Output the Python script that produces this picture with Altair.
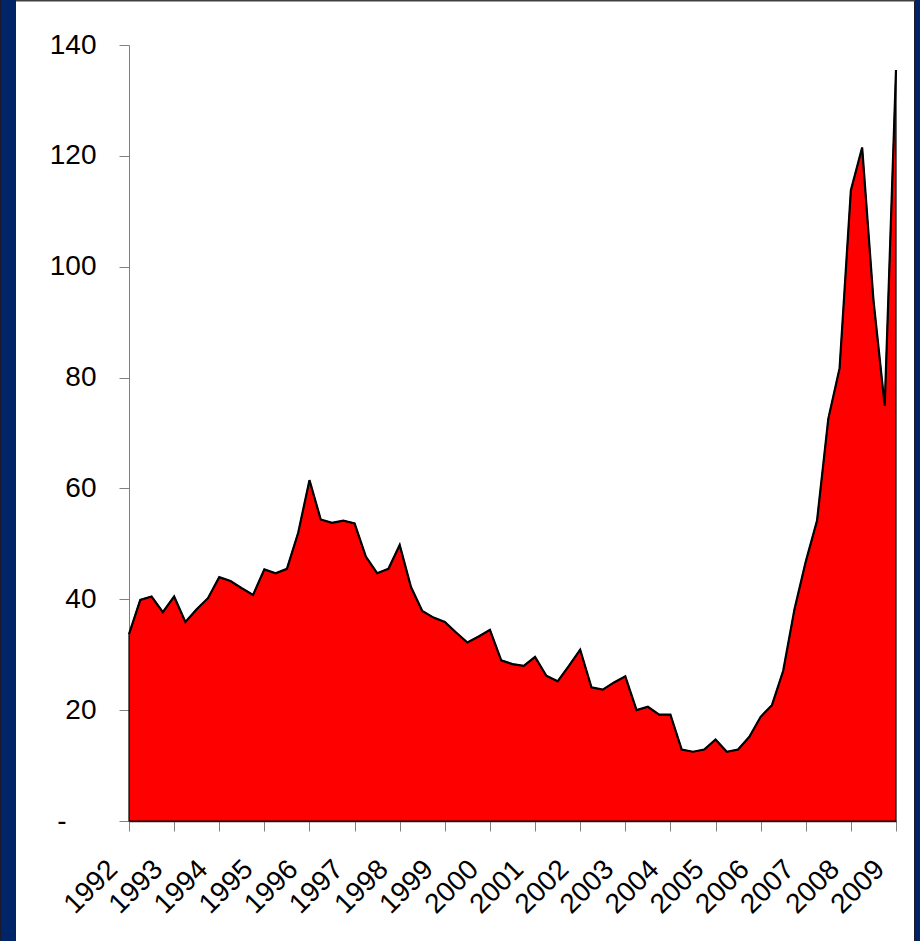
import altair as alt
import pandas as pd

# Quarterly index, 1992 Q1 .. 2009 Q1
START_YEAR = 1992
index_values = [
    33.7, 39.9, 40.5, 37.7, 40.5, 35.9, 38.2, 40.2,
    44.0, 43.3, 42.0, 40.8, 45.4, 44.7, 45.5, 52.0,
    61.5, 54.4, 53.8, 54.2, 53.7, 47.7, 44.7, 45.5,
    49.8, 42.2, 37.9, 36.7, 35.9, 34.0, 32.2, 33.3,
    34.5, 29.0, 28.3, 28.0, 29.6, 26.2, 25.2, 28.0,
    30.9, 24.1, 23.7, 25.0, 26.1, 20.0, 20.6, 19.2,
    19.2, 12.9, 12.5, 12.9, 14.7, 12.5, 12.9, 15.2,
    18.8, 20.9, 27.1, 38.2, 46.8, 54.2, 72.6, 81.7,
    113.8, 121.5, 94.0, 74.9, 135.5,
]
year_ticks = list(range(1992, 2010))
value_ticks = [0, 20, 40, 60, 80, 100, 120, 140]

NAVY = "#002468"
FONT = "Liberation Sans"
FONT_SIZE = 28

df = pd.DataFrame({
    "t": [START_YEAR + i / 4 for i in range(len(index_values))],
    "v": index_values,
})

# plot area geometry (pixels)
W, H = 767, 776
PAD_L, PAD_T, PAD_R, PAD_B = 129, 45, 24, 120

x_enc = alt.X(
    "t:Q",
    scale=alt.Scale(domain=[1992, 2009], nice=False, zero=False),
    axis=alt.Axis(
        values=year_ticks, format="d", title=None,
        labelAngle=-45, labelAlign="right", labelBaseline="top",
        labelFontSize=FONT_SIZE, labelFont=FONT, labelColor="black",
        labelOffset=-26, labelPadding=24,
        tickSize=10, tickColor="#808080", domainColor="#202020",
        domainWidth=1.5, grid=False, labelOverlap=False,
    ),
)
y_enc = alt.Y(
    "v:Q",
    scale=alt.Scale(domain=[0, 140], nice=False),
    axis=alt.Axis(
        values=value_ticks, title=None,
        labelExpr="datum.value == 0 ? '-' : format(datum.value, 'd')",
        labelFontSize=FONT_SIZE, labelFont=FONT, labelColor="black",
        # the zero label ("-") sits further out, as in accounting format
        labelPadding={"condition": {"test": "datum.value == 0", "value": 53},
                      "value": 23},
        tickSize=10, tickColor="#808080",
        domainColor="#808080", grid=False,
    ),
)

area = alt.Chart(df).mark_area(
    color="#FF0000", stroke="#000000", strokeWidth=1.2
).encode(x=x_enc, y=y_enc)

line = alt.Chart(df).mark_line(color="#000000", strokeWidth=2.2).encode(
    x="t:Q", y="v:Q"
)

# slide frame: navy side bands and a thin dark top edge
frame_df = pd.DataFrame({"k": [0]})
left_band = alt.Chart(frame_df).mark_rect(color=NAVY).encode(
    x=alt.value(-PAD_L + 1), x2=alt.value(-PAD_L + 16),
    y=alt.value(-PAD_T), y2=alt.value(H + PAD_B),
)
left_edge = alt.Chart(frame_df).mark_rect(color="#1a1a2a").encode(
    x=alt.value(-PAD_L), x2=alt.value(-PAD_L + 1),
    y=alt.value(-PAD_T), y2=alt.value(H + PAD_B),
)
right_band = alt.Chart(frame_df).mark_rect(color=NAVY).encode(
    x=alt.value(W + PAD_R - 5), x2=alt.value(W + PAD_R),
    y=alt.value(-PAD_T), y2=alt.value(H + PAD_B),
)
right_edge = alt.Chart(frame_df).mark_rect(color="#1a1a2a").encode(
    x=alt.value(W + PAD_R - 6), x2=alt.value(W + PAD_R - 5),
    y=alt.value(-PAD_T), y2=alt.value(H + PAD_B),
)
top_edge = alt.Chart(frame_df).mark_rect(color="#404040").encode(
    x=alt.value(-PAD_L + 16), x2=alt.value(W + PAD_R - 5),
    y=alt.value(-PAD_T), y2=alt.value(-PAD_T + 1.5),
)

chart = alt.layer(
    area, line, left_edge, left_band, right_edge, right_band, top_edge
).properties(
    width=W, height=H,
    padding={"left": PAD_L, "top": PAD_T, "right": PAD_R, "bottom": PAD_B},
    autosize=alt.AutoSizeParams(type="none"),
    background="white",
).configure_view(stroke=None)

chart.save("out.html", embed_options={"renderer": "svg", "actions": False})
